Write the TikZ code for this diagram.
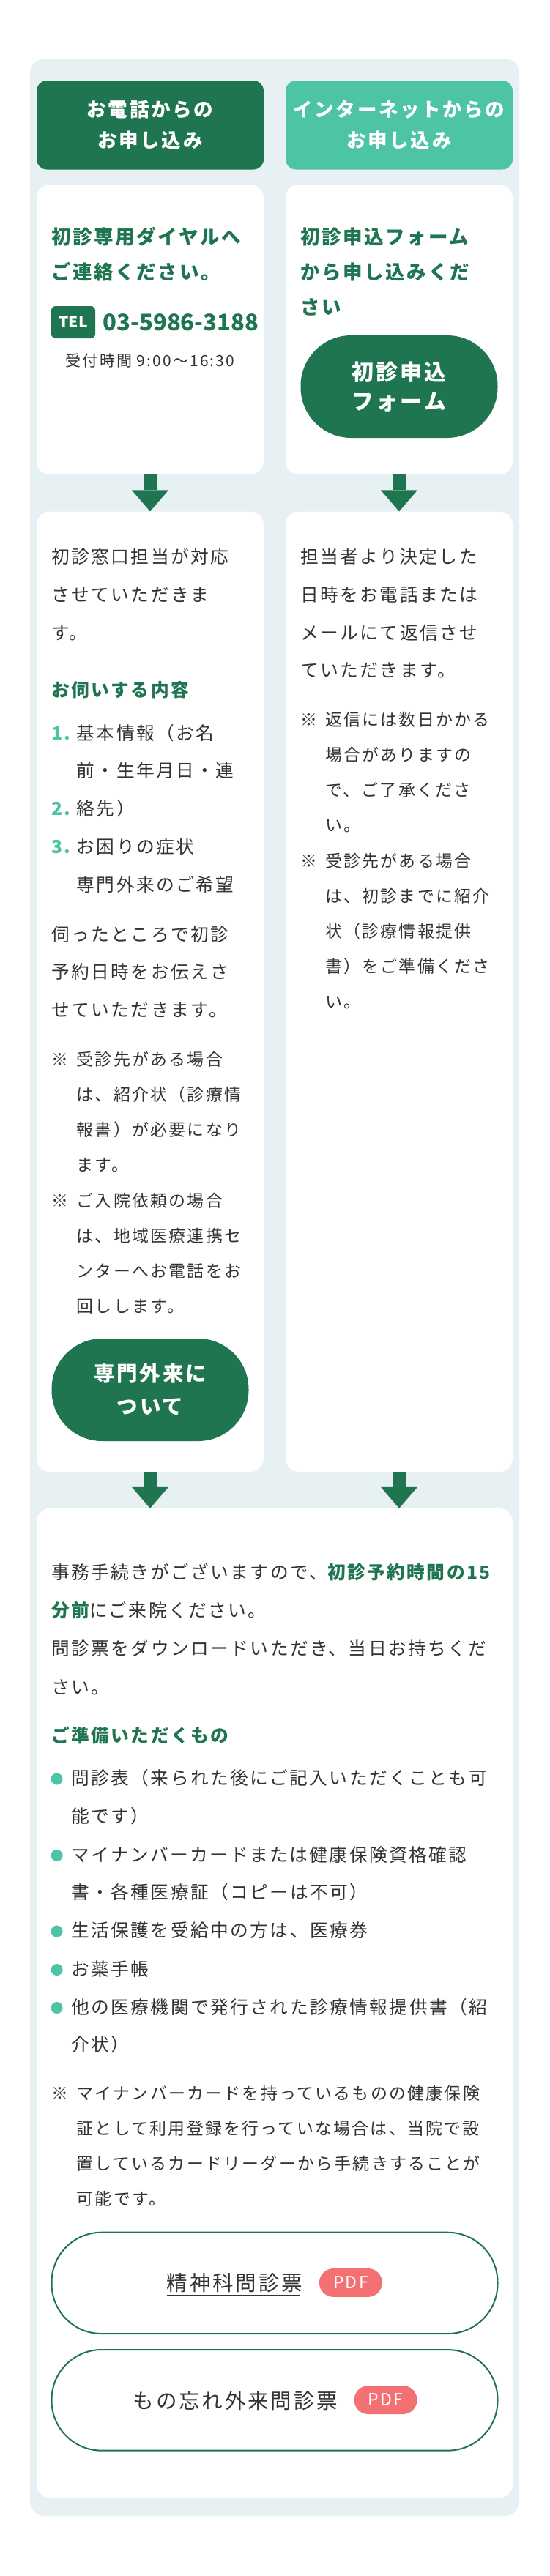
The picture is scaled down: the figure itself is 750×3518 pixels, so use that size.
\documentclass[tikz,border=0pt]{standalone}
\usepackage{fontspec}
\setmainfont[LetterSpace=10]{Noto Sans CJK JP}
\newfontfamily\plainjp{Noto Sans CJK JP}
\usetikzlibrary{arrows.meta}
\definecolor{dkgreen}{HTML}{1F7550}
\definecolor{tealc}{HTML}{4CC4A5}
\definecolor{panelbg}{HTML}{E7F0F2}
\definecolor{pinkpdf}{HTML}{F47173}
\definecolor{txt}{HTML}{333333}
\newcommand{\fsz}[2]{\fontsize{#1}{#2}\selectfont}
\tikzset{
  hdr/.style={rectangle, rounded corners=14pt, minimum width=310pt, minimum height=121.5pt, inner sep=0pt, text=white, align=center, font=\bfseries\fsz{26.5}{42}},
  card/.style={rectangle, fill=white, rounded corners=18pt, inner sep=0pt},
  greenpill/.style={rectangle, fill=dkgreen, text=white, inner sep=0pt, align=center, rounded corners=69pt, minimum width=269pt, minimum height=140pt},
  outpill/.style={rectangle, draw=dkgreen, line width=2pt, fill=white, inner sep=0pt, minimum width=609pt, rounded corners=68pt},
  para/.style={anchor=base west, inner sep=0pt, text width=290pt, align=left, text=txt},
  bodytxt/.style={para, font=\fsz{24.7}{51.8}},
  notetxt/.style={para, font=\fsz{22.9}{48}},
  leadtxt/.style={para, text=dkgreen, font=\bfseries\fsz{26.5}{48}},
  subhead/.style={para, text=dkgreen, font=\bfseries\fsz{24.7}{51.8}},
  numlbl/.style={anchor=base west, inner sep=0pt, text=tealc, font=\bfseries\fsz{24.7}{51.8}},
  notemark/.style={anchor=base west, inner sep=0pt, text=txt, font=\fsz{22.9}{48}},
  bdot/.style={circle, fill=tealc, minimum size=16pt, inner sep=0pt},
  bigarrow/.style={draw=dkgreen, line width=19pt, -{Triangle[width=50pt,length=29pt,line width=0pt]}},
  pdfbadge/.style={rectangle, fill=pinkpdf, rounded corners=19.5pt, minimum width=86pt, minimum height=39pt, inner sep=0pt, text=white, font=\fsz{23}{23}},
  dltxt/.style={anchor=base west, inner sep=0pt, text=txt, font=\fsz{28.5}{34}},
  uline/.style={draw=txt, line width=1.5pt},
}
\begin{document}
\begin{tikzpicture}[x=1pt,y=-1pt]
\useasboundingbox (0,0) rectangle (750,3518);
\fill[white] (0,0) rectangle (750,3518);
\fill[panelbg, rounded corners=20pt] (41,80) rectangle (709,3436);

% headers
\node[hdr, fill=dkgreen] (h1) at (205,170.75) {お電話からの\\お申し込み};
\node[hdr, fill=tealc] (h2) at (545,170.75) {インターネットからの\\お申し込み};

% cards
\node[card, minimum width=310pt, minimum height=396pt] (c1) at (205,450) {};
\node[card, minimum width=310pt, minimum height=396pt] (c2) at (545,450) {};
\node[card, minimum width=310pt, minimum height=1311.4pt] (c3) at (205,1354.3) {};
\node[card, minimum width=310pt, minimum height=1311.4pt] (c4) at (545,1354.3) {};
\node[card, minimum width=650pt, minimum height=1351pt] (c5) at (375,2735.5) {};

% arrows
\draw[bigarrow] (c1.south) -- (c3.north);
\draw[bigarrow] (c2.south) -- (c4.north);
\draw[bigarrow] (c3.south) -- (c3.south |- c5.north);
\draw[bigarrow] (c4.south) -- (c4.south |- c5.north);

% card 1
\node[leadtxt] (t1) at (70,333.8) {初診専用ダイヤルへ\\ご連絡ください。};
\node[rectangle, fill=dkgreen, rounded corners=6pt, minimum width=60pt, minimum height=44pt, inner sep=0pt, text=white, font=\plainjp\bfseries\fsz{21}{21}] (tel) at (100,440) {TEL};
\node[anchor=base west, inner sep=0pt, text=dkgreen, font=\plainjp\bfseries\fsz{31}{31}] (phone) at (140.5,451.7) {03-5986-3188};
\node[anchor=base, inner sep=0pt, text=txt, font=\fsz{21}{21}] (hours) at (205,500) {受付時間 9:00〜16:30};

% card 2
\node[leadtxt] (t2) at (410,333.8) {初診申込フォーム\\から申し込みくだ\\さい};
\node[greenpill, font=\bfseries\fsz{30}{40.5}] (b1) at (545,528) {初診申込\\フォーム};

% card 3
\node[bodytxt] (p1) at (70,769.7) {初診窓口担当が対応\\させていただきま\\す。};
\node[subhead] (s1) at (70,951.1) {お伺いする内容};
\node[numlbl] (k1) at (70,1010.1) {1.};
\node[numlbl] (k2) at (70,1113.7) {2.};
\node[numlbl] (k3) at (70,1165.5) {3.};
\node[bodytxt] (l1) at (104.5,1010.1) {基本情報（お名\\前・生年月日・連\\絡先）\\お困りの症状\\専門外来のご希望};
\node[bodytxt] (p2) at (70,1285.1) {伺ったところで初診\\予約日時をお伝えさ\\せていただきます。};
\node[notemark] (m1) at (70,1455.5) {※};
\node[notetxt] (n1) at (104.5,1455.5) {受診先がある場合\\は、紹介状（診療情\\報書）が必要になり\\ます。};
\node[notemark] (m2) at (70,1648.5) {※};
\node[notetxt] (n2) at (104.5,1648.5) {ご入院依頼の場合\\は、地域医療連携セ\\ンターへお電話をお\\回しします。};
\node[greenpill, font=\bfseries\fsz{28.5}{45}] (b2) at (205,1898) {専門外来に\\ついて};

% card 4
\node[bodytxt] (p3) at (410,769.4) {担当者より決定した\\日時をお電話または\\メールにて返信させ\\ていただきます。};
\node[notemark] (m3) at (410,991) {※};
\node[notetxt] (n3) at (444,991) {返信には数日かかる\\場合がありますの\\で、ご了承くださ\\い。};
\node[notemark] (m4) at (410,1184.5) {※};
\node[notetxt] (n4) at (444,1184.5) {受診先がある場合\\は、初診までに紹介\\状（診療情報提供\\書）をご準備くださ\\い。};

% card 5
\node[bodytxt, text width=630pt, font=\fsz{24.7}{52.3}] (p4) at (70,2156.1) {事務手続きがございますので、{\bfseries\color{dkgreen}初診予約時間の15}\\{\bfseries\color{dkgreen}分前}にご来院ください。\\問診票をダウンロードいただき、当日お持ちくだ\\さい。};
\node[subhead] (s2) at (70,2379.1) {ご準備いただくもの};
\node[bdot] (d1) at (77.6,2429.5) {};
\node[bodytxt, text width=600pt] (i1) at (97,2437.6) {問診表（来られた後にご記入いただくことも可\\能です）};
\node[bdot] (d2) at (77.6,2534) {};
\node[bodytxt, text width=600pt] (i2) at (97,2542.1) {マイナンバーカードまたは健康保険資格確認\\書・各種医療証（コピーは不可）};
\node[bdot] (d3) at (77.6,2637.6) {};
\node[bodytxt, text width=600pt] (i3) at (97,2645.7) {生活保護を受給中の方は、医療券};
\node[bdot] (d4) at (77.6,2690) {};
\node[bodytxt, text width=600pt] (i4) at (97,2698.1) {お薬手帳};
\node[bdot] (d5) at (77.6,2742) {};
\node[bodytxt, text width=600pt] (i5) at (97,2750.1) {他の医療機関で発行された診療情報提供書（紹\\介状）};
\node[notemark] (m5) at (70,2867.5) {※};
\node[notetxt, text width=600pt] (n5) at (104.5,2867.5) {マイナンバーカードを持っているものの健康保険\\証として利用登録を行っていな場合は、当院で設\\置しているカードリーダーから手続きすることが\\可能です。};

% download buttons
\node[outpill, minimum height=138.3pt] (dl1) at (375,3117.85) {};
\node[outpill, minimum height=137.6pt] (dl2) at (375,3277.8) {};
\node[dltxt] (dt1) at (227.5,3128.5) {精神科問診票};
\draw[uline] ([yshift=-6.3pt]dt1.base west) -- ([yshift=-6.3pt,xshift=-2.8pt]dt1.base east);
\node[pdfbadge] (pdf1) at (478.9,3117.4) {PDF};
\node[dltxt] (dt2) at (181.5,3289) {もの忘れ外来問診票};
\draw[uline] ([yshift=-6.3pt]dt2.base west) -- ([yshift=-6.3pt,xshift=-2.8pt]dt2.base east);
\node[pdfbadge] (pdf2) at (526.6,3277.5) {PDF};
\end{tikzpicture}
\end{document}
